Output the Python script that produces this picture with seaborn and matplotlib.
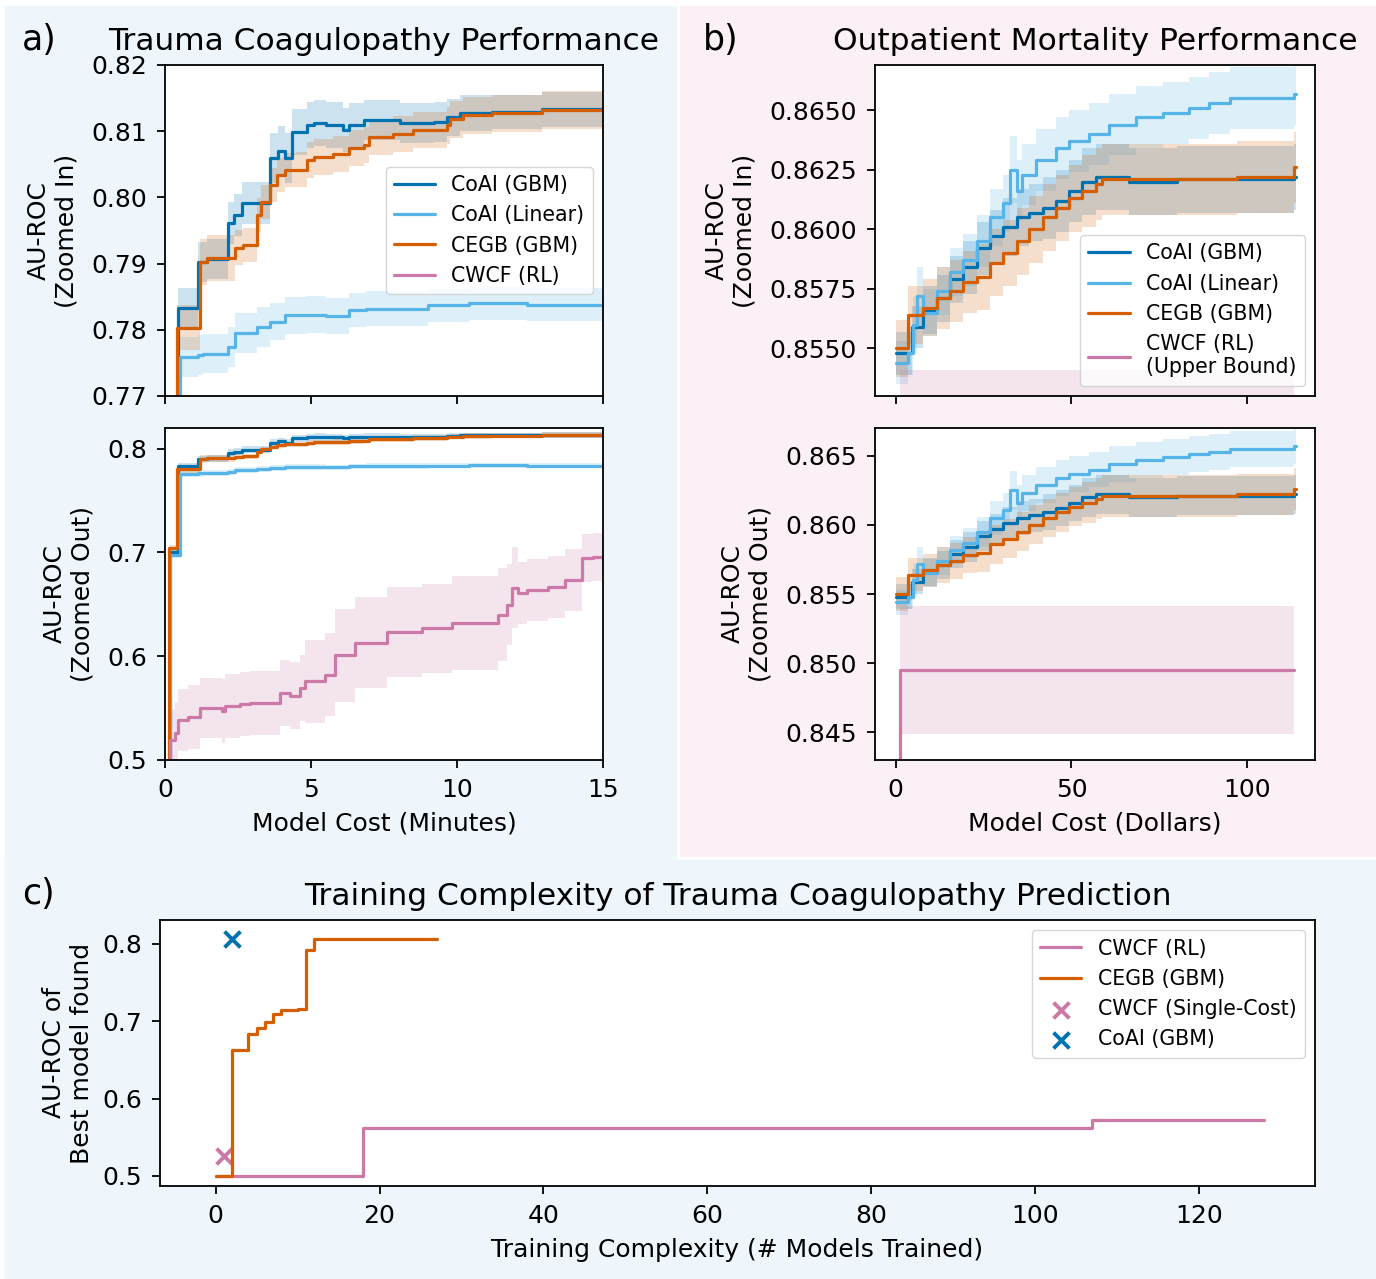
import numpy as np
import seaborn as sns
import matplotlib.pyplot as plt
from matplotlib.patches import Rectangle
from matplotlib.ticker import FormatStrFormatter, MultipleLocator

# kleuren
col_gbm = "#0072B2"
col_lin = "#56B4E9"
col_cegb = "#D55E00"
col_cwcf = "#CC79A7"

# a) Trauma coagulopathy, cost in minutes
a_t_gbm = [0, 0.17, 0.45, 1.13, 1.45, 2.16, 2.36, 2.64, 3.6, 3.87, 4.1, 4.35, 4.86, 5.1, 5.5, 6.1, 6.3, 6.8, 8.05, 9.2, 9.65, 10.1, 11.2, 12.9, 15]
a_gbm = [0.45, 0.700, 0.7833, 0.7902, 0.7907, 0.7961, 0.7973, 0.7992, 0.8060, 0.8070, 0.8060, 0.8099, 0.8109, 0.8112, 0.8109, 0.8102, 0.8109, 0.8117, 0.8112, 0.8114, 0.8121, 0.8128, 0.8129, 0.8133, 0.8132]
a_gbm_sd = [0.003, 0.003, 0.003, 0.003, 0.003, 0.0032, 0.0032, 0.0032, 0.0038, 0.0038, 0.0038, 0.0035, 0.0035, 0.0035, 0.0035, 0.0033, 0.0033, 0.003, 0.003, 0.003, 0.0028, 0.0027, 0.0026, 0.0026, 0.0026]

a_t_lin = [0, 0.17, 0.51, 1.13, 1.3, 2.16, 2.4, 3.15, 3.6, 4.1, 4.86, 5.5, 6.3, 6.9, 9.0, 10.4, 12.4, 15]
a_lin = [0.45, 0.698, 0.7759, 0.7762, 0.7764, 0.7774, 0.7795, 0.7804, 0.7812, 0.7822, 0.7823, 0.7821, 0.7830, 0.7832, 0.7837, 0.7840, 0.7838, 0.7838]
a_lin_sd = [0.003, 0.003, 0.003, 0.003, 0.003, 0.003, 0.003, 0.003, 0.0028, 0.0028, 0.0028, 0.0027, 0.0026, 0.0026, 0.0025, 0.0025, 0.0025, 0.0025]

a_t_cegb = [0, 0.15, 0.41, 1.2, 1.44, 2.4, 2.67, 3.15, 3.3, 3.6, 3.83, 4.1, 4.5, 4.86, 5.1, 5.75, 6.3, 6.8, 7.0, 7.8, 8.5, 9.65, 9.76, 10.2, 11.2, 12.9, 15]
a_cegb = [0.45, 0.704, 0.7803, 0.7902, 0.7908, 0.7924, 0.7928, 0.7973, 0.7993, 0.8019, 0.8034, 0.8041, 0.8042, 0.8057, 0.8061, 0.8065, 0.8075, 0.8079, 0.8091, 0.8096, 0.8102, 0.8109, 0.8118, 0.8124, 0.8127, 0.8132, 0.8132]
a_cegb_sd = [0.0034, 0.0034, 0.0034, 0.0035, 0.0035, 0.0026, 0.0026, 0.0026, 0.0026, 0.0026, 0.0026, 0.0026, 0.0026, 0.0027, 0.0027, 0.0027, 0.0027, 0.0027, 0.0027, 0.0027, 0.0027, 0.0028, 0.0028, 0.0028, 0.0028, 0.0028, 0.0028]

a_t_cwcf = [0, 0.1, 0.17, 0.34, 0.45, 0.8, 1.2, 1.95, 2.05, 2.57, 2.9, 3.94, 4.28, 4.62, 4.8, 5.48, 5.82, 6.5, 7.6, 8.8, 9.83, 11.4, 11.7, 11.9, 12.1, 12.4, 13.1, 13.7, 14.28, 14.66, 15]
a_cwcf = [0.45, 0.49, 0.519, 0.526, 0.5386, 0.5415, 0.550, 0.547, 0.552, 0.554, 0.555, 0.5646, 0.562, 0.5694, 0.576, 0.582, 0.601, 0.613, 0.6234, 0.627, 0.632, 0.640, 0.6495, 0.666, 0.661, 0.664, 0.667, 0.6736, 0.6948, 0.696, 0.696]
a_cwcf_sd = [0.03, 0.03, 0.03, 0.03, 0.03, 0.031, 0.029, 0.031, 0.031, 0.031, 0.031, 0.032, 0.032, 0.032, 0.04, 0.04, 0.045, 0.044, 0.043, 0.043, 0.045, 0.045, 0.039, 0.039, 0.03, 0.03, 0.03, 0.03, 0.023, 0.023, 0.023]

# b) Outpatient mortality, cost in dollars
b_t_gbm = [0, 3.4, 4.5, 7.7, 11.6, 15.3, 19, 23, 26.7, 30.4, 34.4, 38, 41.8, 45.7, 49.4, 53, 57, 66.5, 80, 113.4, 114]
b_gbm = [0.8548, 0.8548, 0.8559, 0.8566, 0.8571, 0.8579, 0.8584, 0.8592, 0.8597, 0.8601, 0.8605, 0.8607, 0.8609, 0.8612, 0.8616, 0.8620, 0.8622, 0.8620, 0.8621, 0.8622, 0.8622]
b_gbm_sd = [0.0009, 0.0009, 0.0009, 0.001, 0.001, 0.001, 0.0011, 0.0011, 0.0011, 0.0012, 0.0012, 0.0012, 0.0013, 0.0013, 0.0013, 0.0014, 0.0014, 0.0014, 0.0014, 0.0014, 0.0014]

b_t_lin = [0, 3.4, 5.0, 6.0, 7.7, 11.6, 15.3, 19, 23, 26.7, 30.4, 32.4, 34.4, 36, 40, 45.7, 49.4, 55, 60.8, 68.5, 76, 83.5, 89, 95, 113.2, 114]
b_lin = [0.8544, 0.8548, 0.8560, 0.8572, 0.8565, 0.8574, 0.8582, 0.8587, 0.8595, 0.8605, 0.8611, 0.8625, 0.8616, 0.8623, 0.8629, 0.8634, 0.8637, 0.8640, 0.8644, 0.8647, 0.8649, 0.8651, 0.8653, 0.8655, 0.8657, 0.8657]
b_lin_sd = [0.0009, 0.0009, 0.0012, 0.0012, 0.001, 0.001, 0.001, 0.0011, 0.0011, 0.0012, 0.0012, 0.0014, 0.0013, 0.0013, 0.0013, 0.0013, 0.0013, 0.0013, 0.0013, 0.0013, 0.0013, 0.0013, 0.0013, 0.0013, 0.0013, 0.0013]

b_t_cegb = [0, 3.4, 7.7, 11.6, 15.3, 19, 23, 26.7, 30.4, 34.4, 38, 41.8, 45.7, 49.4, 53, 57, 58.8, 80, 97, 113.4, 114]
b_cegb = [0.8550, 0.8564, 0.8567, 0.8571, 0.8574, 0.8578, 0.8580, 0.8586, 0.8590, 0.8595, 0.8600, 0.8605, 0.8609, 0.8613, 0.8616, 0.8619, 0.8621, 0.8621, 0.8622, 0.8626, 0.8626]
b_cegb_sd = [0.0012, 0.0012, 0.0012, 0.0013, 0.0013, 0.0013, 0.0014, 0.0014, 0.0014, 0.0014, 0.0014, 0.0014, 0.0014, 0.0014, 0.0015, 0.0015, 0.0015, 0.0015, 0.0015, 0.0015, 0.0015]

b_t_cwcf = [0.85, 1.1, 113.4]
b_cwcf = [0.80, 0.8495, 0.8495]
b_cwcf_sd = [0.0046, 0.0046, 0.0046]

# c) Training complexity
c_n_cwcf = [0, 18, 107, 128]
c_cwcf = [0.5, 0.562, 0.5725, 0.5725]
c_n_cegb = [0, 2, 4, 5, 6, 7, 8, 10, 11, 12, 27]
c_cegb = [0.5, 0.663, 0.6837, 0.6915, 0.699, 0.7096, 0.7148, 0.716, 0.7924, 0.8066, 0.8066]
c_single_n = [1]
c_single = [0.526]
c_coai_n = [2]
c_coai = [0.806]

sns.set_style("ticks")
plt.rcParams["font.family"] = ["DejaVu Sans"]
plt.rcParams["font.size"] = 18
plt.rcParams["axes.labelsize"] = 18
plt.rcParams["xtick.labelsize"] = 18
plt.rcParams["ytick.labelsize"] = 18
plt.rcParams["text.color"] = "black"
plt.rcParams["axes.labelcolor"] = "black"
plt.rcParams["axes.edgecolor"] = "black"
plt.rcParams["axes.linewidth"] = 1.3
plt.rcParams["xtick.major.size"] = 6
plt.rcParams["ytick.major.size"] = 6
plt.rcParams["xtick.major.width"] = 1.3
plt.rcParams["ytick.major.width"] = 1.3
plt.rcParams["xtick.major.pad"] = 7
plt.rcParams["ytick.major.pad"] = 7
plt.rcParams["xtick.color"] = "black"
plt.rcParams["ytick.color"] = "black"

W, H = 1376, 1279
fig = plt.figure(figsize=(W / 100, H / 100), dpi=100)

blue_bg = "#EEF6FC"
pink_bg = "#FAF0F5"
fig.add_artist(Rectangle((5 / W, 0), 671 / W, 1 - 6 / H, transform=fig.transFigure, color=blue_bg, zorder=-5))
fig.add_artist(Rectangle((5 / W, 0), 1 - 5 / W, 1 - 860 / H, transform=fig.transFigure, color=blue_bg, zorder=-5))
fig.add_artist(Rectangle((680 / W, 1 - 856 / H), 1 - 680 / W, 850 / H, transform=fig.transFigure, color=pink_bg, zorder=-5))


def box(x0, y0, x1, y1):
    return [x0 / W, 1 - y1 / H, (x1 - x0) / W, (y1 - y0) / H]


ax_a1 = fig.add_axes(box(165, 65, 603, 396))
ax_a2 = fig.add_axes(box(165, 428, 603, 760))
ax_b1 = fig.add_axes(box(875, 65, 1315, 396))
ax_b2 = fig.add_axes(box(875, 428, 1315, 760))
ax_c = fig.add_axes(box(160, 920, 1315, 1186))

lw = 2.3
leg_fs = 14.8
ylp = 9
xlp = 7


def stepline(ax, t, y, sd, color, label):
    y = np.array(y)
    sd = np.array(sd)
    ax.fill_between(t, y - sd, y + sd, step="post", color=color, alpha=0.2, linewidth=0)
    sns.lineplot(x=t, y=y, ax=ax, color=color, lw=lw, drawstyle="steps-post", label=label, legend=False)


for ax in [ax_a1, ax_a2]:
    stepline(ax, a_t_gbm, a_gbm, a_gbm_sd, col_gbm, "CoAI (GBM)")
    stepline(ax, a_t_lin, a_lin, a_lin_sd, col_lin, "CoAI (Linear)")
    stepline(ax, a_t_cegb, a_cegb, a_cegb_sd, col_cegb, "CEGB (GBM)")
    stepline(ax, a_t_cwcf, a_cwcf, a_cwcf_sd, col_cwcf, "CWCF (RL)")
    ax.set_xlim(0, 15)
    ax.xaxis.set_major_locator(MultipleLocator(5))

ax_a1.set_ylim(0.77, 0.82)
ax_a1.yaxis.set_major_locator(MultipleLocator(0.01))
ax_a1.yaxis.set_major_formatter(FormatStrFormatter("%.2f"))
ax_a1.set_xticklabels([])
ax_a1.set_ylabel("AU-ROC\n(Zoomed In)", labelpad=ylp)
ax_a1.set_title("Trauma Coagulopathy Performance", fontsize=22.5, pad=11)
ax_a1.legend(loc="center right", fontsize=leg_fs)

ax_a2.set_ylim(0.5, 0.82)
ax_a2.yaxis.set_major_locator(MultipleLocator(0.1))
ax_a2.yaxis.set_major_formatter(FormatStrFormatter("%.1f"))
ax_a2.set_ylabel("AU-ROC\n(Zoomed Out)", labelpad=ylp)
ax_a2.set_xlabel("Model Cost (Minutes)", labelpad=xlp)

for ax in [ax_b1, ax_b2]:
    stepline(ax, b_t_gbm, b_gbm, b_gbm_sd, col_gbm, "CoAI (GBM)")
    stepline(ax, b_t_lin, b_lin, b_lin_sd, col_lin, "CoAI (Linear)")
    stepline(ax, b_t_cegb, b_cegb, b_cegb_sd, col_cegb, "CEGB (GBM)")
    stepline(ax, b_t_cwcf, b_cwcf, b_cwcf_sd, col_cwcf, "CWCF (RL)\n(Upper Bound)")
    ax.set_xlim(-5.9, 119.3)
    ax.xaxis.set_major_locator(MultipleLocator(50))

ax_b1.set_ylim(0.853, 0.8669)
ax_b1.yaxis.set_major_locator(MultipleLocator(0.0025))
ax_b1.yaxis.set_major_formatter(FormatStrFormatter("%.4f"))
ax_b1.set_xticklabels([])
ax_b1.set_ylabel("AU-ROC\n(Zoomed In)", labelpad=ylp)
ax_b1.set_title("Outpatient Mortality Performance", fontsize=22.5, pad=11)
ax_b1.legend(loc="lower right", fontsize=leg_fs)

ax_b2.set_ylim(0.843, 0.867)
ax_b2.yaxis.set_major_locator(MultipleLocator(0.005))
ax_b2.yaxis.set_major_formatter(FormatStrFormatter("%.3f"))
ax_b2.set_ylabel("AU-ROC\n(Zoomed Out)", labelpad=ylp)
ax_b2.set_xlabel("Model Cost (Dollars)", labelpad=xlp)

# c)
sns.lineplot(x=c_n_cwcf, y=c_cwcf, ax=ax_c, color=col_cwcf, lw=lw, drawstyle="steps-post", label="CWCF (RL)", legend=False)
sns.lineplot(x=c_n_cegb, y=c_cegb, ax=ax_c, color=col_cegb, lw=lw, drawstyle="steps-post", label="CEGB (GBM)", legend=False)
sns.scatterplot(x=c_single_n, y=c_single, ax=ax_c, color=col_cwcf, marker="x", s=130, linewidth=2.8, label="CWCF (Single-Cost)", legend=False)
sns.scatterplot(x=c_coai_n, y=c_coai, ax=ax_c, color=col_gbm, marker="x", s=130, linewidth=2.8, label="CoAI (GBM)", legend=False)
ax_c.set_xlim(-6.8, 134.2)
ax_c.set_ylim(0.487, 0.831)
ax_c.xaxis.set_major_locator(MultipleLocator(20))
ax_c.yaxis.set_major_locator(MultipleLocator(0.1))
ax_c.yaxis.set_major_formatter(FormatStrFormatter("%.1f"))
ax_c.set_xlabel("Training Complexity (# Models Trained)", labelpad=xlp)
ax_c.set_ylabel("AU-ROC of\nBest model found", labelpad=6)
ax_c.set_title("Training Complexity of Trauma Coagulopathy Prediction", fontsize=22.5, pad=11)
ax_c.legend(loc="upper right", fontsize=leg_fs)

fig.text(22 / W, 1 - 40 / H, "a)", fontsize=25, va="center", ha="left")
fig.text(703 / W, 1 - 40 / H, "b)", fontsize=25, va="center", ha="left")
fig.text(22 / W, 1 - 894 / H, "c)", fontsize=25, va="center", ha="left")

fig.savefig("out.png", dpi=100)
